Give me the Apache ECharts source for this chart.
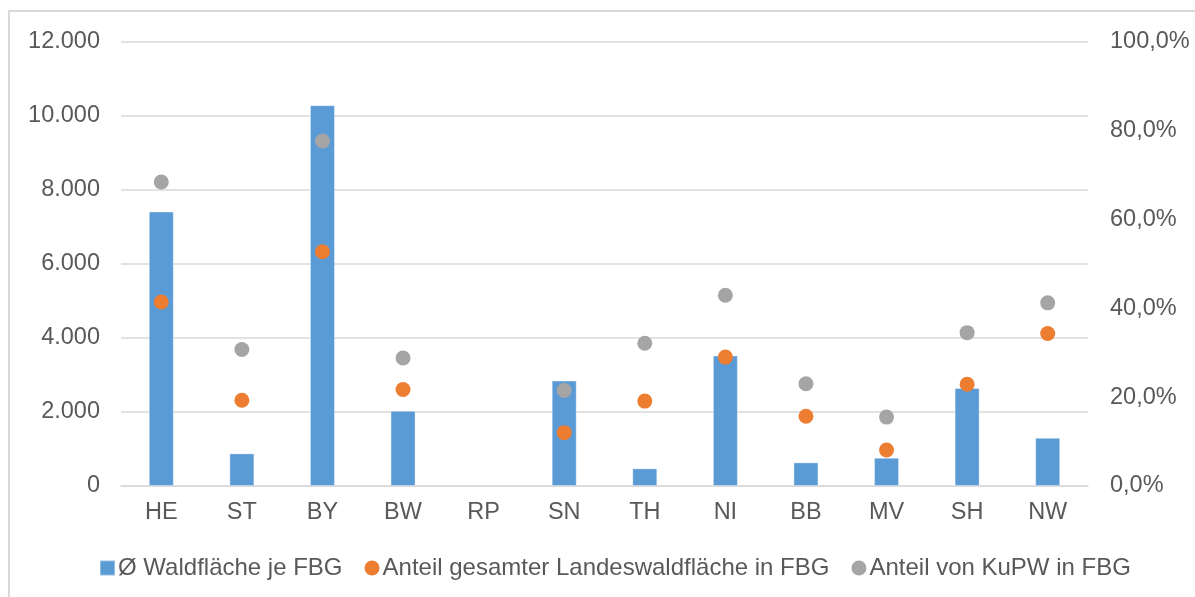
<!DOCTYPE html>
<html>
<head>
<meta charset="utf-8">
<script src="https://cdn.jsdelivr.net/npm/echarts@6/dist/echarts.min.js"></script>
<style>
	html, body { margin: 0; padding: 0; background: #fff; }
	#chart { width: 1195px; height: 597px; }
</style>
</head>
<body>
<div id="chart"></div>
<script>
	// Bundesländer
	var categories = ["HE", "ST", "BY", "BW", "RP", "SN", "TH", "NI", "BB", "MV", "SH", "NW"];
	// Ø Waldfläche je FBG (ha)
	var waldflaeche = [7410, 880, 10280, 2030, null, 2845, 476, 3520, 638, 762, 2646, 1300];
	// Anteil gesamter Landeswaldfläche in FBG (%)
	var anteilLandeswald = [41.4, 19.3, 52.7, 21.7, null, 12.0, 19.1, 29.0, 15.7, 8.1, 22.9, 34.3];
	// Anteil von KuPW in FBG (%)
	var anteilKuPW = [68.4, 30.7, 77.6, 28.8, null, 21.5, 32.1, 42.9, 23.0, 15.5, 34.5, 41.2];
	var seriesNames = ["Ø Waldfläche je FBG", "Anteil gesamter Landeswaldfläche in FBG", "Anteil von KuPW in FBG"];

	var textColor = "#595959";
	var fontFamily = "'Liberation Sans', Arial, sans-serif";
	var fontSize = 23.5;

	function tausender(v) {
		return String(v).replace(/\B(?=(\d{3})+(?!\d))/g, ".");
	}

	var myChart = echarts.init(document.getElementById("chart"));
	var option = {
		animation: false,
		textStyle: { fontFamily: fontFamily },
		graphic: [{
			type: "rect",
			shape: { x: 9, y: 11, width: 1400, height: 800 },
			style: { fill: "none", stroke: "#d9d9d9", lineWidth: 2 },
			silent: true
		}],
		grid: { left: 121, right: 107, top: 41.5, bottom: 111 },
		legend: {
			left: 94,
			top: 551,
			itemWidth: 15,
			itemHeight: 15,
			itemGap: 22,
			textStyle: { color: textColor, fontSize: 24, fontFamily: fontFamily, padding: [0, 0, 0, -2] },
			data: [
				{ name: seriesNames[0], icon: "rect" },
				{ name: seriesNames[1], icon: "circle" },
				{ name: seriesNames[2], icon: "circle" }
			]
		},
		xAxis: {
			type: "category",
			data: categories,
			axisTick: { show: false },
			axisLine: { lineStyle: { color: "#d9d9d9", width: 1.5 } },
			axisLabel: { color: textColor, fontSize: fontSize, margin: 15 }
		},
		yAxis: [
			{
				type: "value",
				min: 0,
				max: 12000,
				interval: 2000,
				axisLine: { show: false },
				axisTick: { show: false },
				splitLine: { lineStyle: { color: "#d9d9d9", width: 1.5 } },
				axisLabel: {
					color: textColor, fontSize: fontSize, margin: 21,
					formatter: function (v) { return tausender(v); }
				}
			},
			{
				type: "value",
				min: 0,
				max: 100,
				interval: 20,
				axisLine: { show: false },
				axisTick: { show: false },
				splitLine: { show: false },
				axisLabel: {
					color: textColor, fontSize: fontSize, margin: 22,
					formatter: function (v) { return v.toFixed(1).replace(".", ",") + "%"; }
				}
			}
		],
		series: [
			{
				name: seriesNames[0],
				type: "bar",
				barWidth: 25,
				data: waldflaeche,
				itemStyle: { color: "#5b9bd5", borderColor: "rgba(255,255,255,0.35)", borderWidth: 1 }
			},
			{
				name: seriesNames[1],
				type: "scatter",
				yAxisIndex: 1,
				symbolSize: 15,
				data: anteilLandeswald,
				itemStyle: { color: "#ed7d31", opacity: 1 }
			},
			{
				name: seriesNames[2],
				type: "scatter",
				yAxisIndex: 1,
				symbolSize: 15,
				data: anteilKuPW,
				itemStyle: { color: "#a5a5a5", opacity: 1 }
			}
		]
	};
	myChart.setOption(option);
</script>
</body>
</html>
